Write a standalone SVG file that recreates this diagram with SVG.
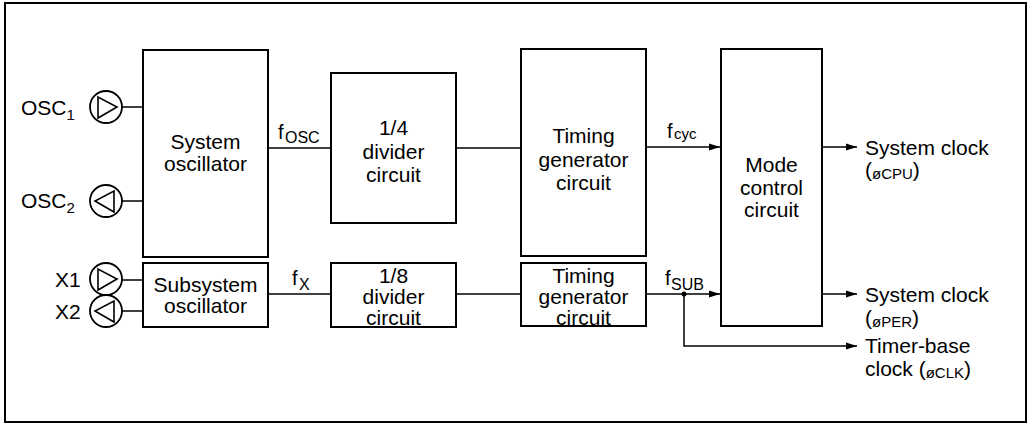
<svg xmlns="http://www.w3.org/2000/svg" width="1028" height="424" viewBox="0 0 1028 424">
<defs>
<style>
.box{fill:#fff;stroke:#000;stroke-width:2}
.ln{fill:none;stroke:#000;stroke-width:1.5}
.t{font-family:"Liberation Sans",Arial,Helvetica,sans-serif;font-size:21px;fill:#000}
.c{text-anchor:middle}
.s{font-size:15px}
.f{font-size:20px}
.pin{fill:#fff;stroke:#000;stroke-width:1.8}
.tri{fill:none;stroke:#000;stroke-width:1.6;stroke-linejoin:miter}
</style>
<marker id="ah" markerWidth="12" markerHeight="8" refX="11" refY="4" orient="auto" markerUnits="userSpaceOnUse">
<path d="M0,0.5 L11,4 L0,7.5 Z" fill="#000"/>
</marker>
</defs>
<rect width="1028" height="424" fill="#fff"/>
<rect x="5" y="3" width="1021" height="419" fill="none" stroke="#000" stroke-width="2"/>

<g id="connectors">
<line class="ln" x1="122" y1="107" x2="143" y2="107"/>
<line class="ln" x1="122" y1="201" x2="143" y2="201"/>
<line class="ln" x1="122" y1="280" x2="143" y2="280"/>
<line class="ln" x1="122" y1="311" x2="143" y2="311"/>
<line class="ln" x1="268" y1="148" x2="331" y2="148"/>
<line class="ln" x1="456" y1="148" x2="521" y2="148"/>
<line class="ln" x1="646" y1="147" x2="720" y2="147" marker-end="url(#ah)"/>
<line class="ln" x1="822" y1="147" x2="857" y2="147" marker-end="url(#ah)"/>
<line class="ln" x1="268" y1="294" x2="331" y2="294"/>
<line class="ln" x1="456" y1="294" x2="521" y2="294"/>
<line class="ln" x1="646" y1="294" x2="720" y2="294" marker-end="url(#ah)"/>
<line class="ln" x1="822" y1="294" x2="857" y2="294" marker-end="url(#ah)"/>
<polyline class="ln" points="684,294 684,346 857,346" marker-end="url(#ah)"/>
<circle cx="684" cy="294" r="2.5" fill="#000"/>
<text class="t f" x="278" y="139">f</text><text class="t s" x="285" y="143" style="font-size:16px">OSC</text>
<text class="t f" x="667" y="138">f</text><text class="t s" x="674" y="139">cyc</text>
<text class="t f" x="292" y="285">f</text><text class="t s" x="299" y="290" style="font-size:16px">X</text>
<text class="t f" x="665" y="285">f</text><text class="t s" x="671" y="290" style="font-size:16px">SUB</text>
</g>

<g id="osc1">
<text class="t" x="21" y="115">OSC<tspan class="s" dy="5">1</tspan></text>
<circle class="pin" cx="106" cy="107" r="16"/>
<polygon class="tri" points="98,97 98,118 117,107"/>
</g>
<g id="osc2">
<text class="t" x="21" y="208">OSC<tspan class="s" dy="5">2</tspan></text>
<circle class="pin" cx="106" cy="201" r="16"/>
<polygon class="tri" points="114,191 114,212 95,201"/>
</g>
<g id="x1">
<text class="t" x="55" y="287">X1</text>
<circle class="pin" cx="106" cy="279" r="16"/>
<polygon class="tri" points="98,269 98,290 117,279"/>
</g>
<g id="x2">
<text class="t" x="55" y="319">X2</text>
<circle class="pin" cx="106" cy="311" r="16"/>
<polygon class="tri" points="114,301 114,322 95,311"/>
</g>

<g id="sysosc">
<rect class="box" x="143" y="50" width="125" height="207"/>
<text class="t c" x="205.5" y="149">System</text>
<text class="t c" x="205.5" y="171">oscillator</text>
</g>
<g id="div4">
<rect class="box" x="331" y="73" width="125" height="150"/>
<text class="t c" x="393.5" y="135">1/4</text>
<text class="t c" x="393.5" y="159">divider</text>
<text class="t c" x="393.5" y="182">circuit</text>
</g>
<g id="tg1">
<rect class="box" x="521" y="49" width="125" height="207"/>
<text class="t c" x="583.5" y="143">Timing</text>
<text class="t c" x="583.5" y="167">generator</text>
<text class="t c" x="583.5" y="190">circuit</text>
</g>
<g id="mode">
<rect class="box" x="721" y="49" width="101" height="277"/>
<text class="t c" x="771.5" y="172">Mode</text>
<text class="t c" x="771.5" y="195">control</text>
<text class="t c" x="771.5" y="217">circuit</text>
</g>
<g id="subosc">
<rect class="box" x="143" y="263" width="125" height="64"/>
<text class="t c" x="205.5" y="292">Subsystem</text>
<text class="t c" x="205.5" y="313">oscillator</text>
</g>
<g id="div8">
<rect class="box" x="331" y="263" width="125" height="64"/>
<text class="t c" x="393.5" y="283">1/8</text>
<text class="t c" x="393.5" y="304">divider</text>
<text class="t c" x="393.5" y="325">circuit</text>
</g>
<g id="tg2">
<rect class="box" x="521" y="263" width="125" height="63"/>
<text class="t c" x="583.5" y="283">Timing</text>
<text class="t c" x="583.5" y="304">generator</text>
<text class="t c" x="583.5" y="325">circuit</text>
</g>

<g id="out-cpu">
<text class="t" x="865" y="155">System clock</text>
<text class="t" x="865" y="177">(<tspan class="s" dy="2">øCPU</tspan><tspan dy="-2">)</tspan></text>
</g>
<g id="out-per">
<text class="t" x="865" y="302">System clock</text>
<text class="t" x="865" y="325">(<tspan class="s" dy="2">øPER</tspan><tspan dy="-2">)</tspan></text>
</g>
<g id="out-clk">
<text class="t" x="865" y="353">Timer-base</text>
<text class="t" x="865" y="376">clock (<tspan class="s" dy="2">øCLK</tspan><tspan dy="-2">)</tspan></text>
</g>
</svg>
